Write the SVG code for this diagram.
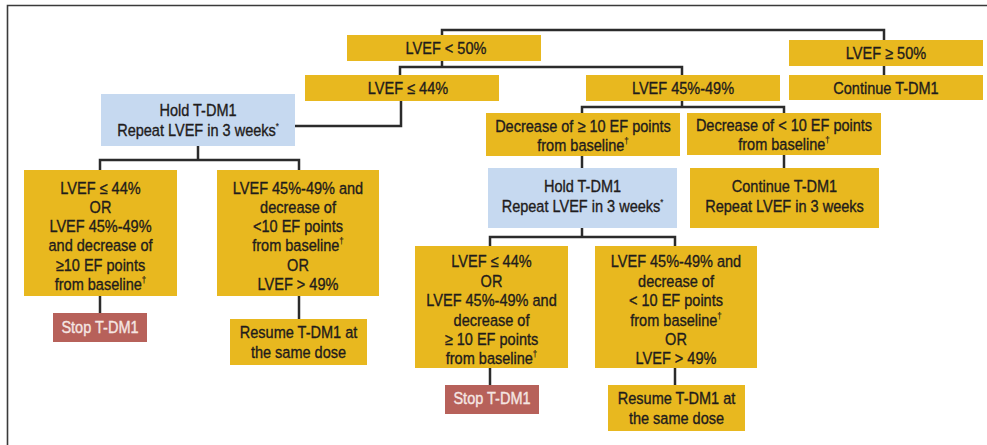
<svg xmlns="http://www.w3.org/2000/svg" width="987" height="445" viewBox="0 0 987 445">
<style>
.y{fill:#e8b81f}
.b{fill:#c6d9f0}
.r{fill:#b7615a}
.c{fill:none;stroke:#2b2b2b;stroke-width:2.5}
text{font-family:"Liberation Sans",Arial,sans-serif;font-size:16.5px;fill:#1f1c1c;stroke:#1f1c1c;stroke-width:0.35;text-anchor:middle;transform-box:fill-box;transform-origin:center;transform:scaleX(0.88)}
.w{fill:#f5e6e2;stroke:#f5e6e2}
.s{font-size:9px;stroke-width:0.2}
</style>
<rect width="987" height="445" fill="#ffffff"/>
<path d="M7.5,445 V5.5 H987" fill="none" stroke="#3a3a3a" stroke-width="1.6"/>
<g id="connectors">
<path class="c" d="M442,35 V30 H884 V40"/>
<path class="c" d="M884,66 V75"/>
<path class="c" d="M442,61 V67"/>
<path class="c" d="M400,75 V67 H682 V75"/>
<path class="c" d="M401,101 V126 H295"/>
<path class="c" d="M198,146 V160"/>
<path class="c" d="M100,170 V160 H299 V170"/>
<path class="c" d="M682,101 V107"/>
<path class="c" d="M582,113 V107 H784 V113"/>
<path class="c" d="M582,156 V168"/>
<path class="c" d="M784,155 V168"/>
<path class="c" d="M582,228 V237"/>
<path class="c" d="M490,246 V237 H675 V246"/>
<path class="c" d="M100,296 V313"/>
<path class="c" d="M299,296 V319"/>
<path class="c" d="M490,368 V385"/>
<path class="c" d="M675,368 V385"/>
</g>
<g id="n1"><rect class="y" x="347" y="35" width="194" height="26"/><text x="446" y="54.5">LVEF &lt; 50%</text></g>
<g id="n2"><rect class="y" x="789" y="40" width="194" height="26"/><text x="886" y="59.5">LVEF ≥ 50%</text></g>
<g id="n3"><rect class="y" x="305" y="75" width="194" height="26"/><text x="408" y="94.5">LVEF ≤ 44%</text></g>
<g id="n4"><rect class="y" x="586" y="75" width="194" height="26"/><text x="683" y="94.5">LVEF 45%-49%</text></g>
<g id="n5"><rect class="y" x="789" y="75" width="194" height="25"/><text x="886" y="94">Continue T-DM1</text></g>
<g id="n6"><rect class="b" x="101" y="94" width="194" height="52"/><text x="198" y="116">Hold T-DM1</text><text x="198" y="136.5">Repeat LVEF in 3 weeks<tspan class="s" dy="-7">*</tspan></text></g>
<g id="n7"><rect class="y" x="486" y="113" width="194" height="43"/><text x="583" y="132">Decrease of ≥ 10 EF points</text><text x="583" y="151">from baseline<tspan class="s" dy="-7">†</tspan></text></g>
<g id="n8"><rect class="y" x="687" y="113" width="194" height="42"/><text x="784" y="131">Decrease of &lt; 10 EF points</text><text x="784" y="150">from baseline<tspan class="s" dy="-7">†</tspan></text></g>
<g id="n9"><rect class="b" x="488" y="168" width="189" height="60"/><text x="582.5" y="192">Hold T-DM1</text><text x="582.5" y="212">Repeat LVEF in 3 weeks<tspan class="s" dy="-7">*</tspan></text></g>
<g id="n10"><rect class="y" x="690" y="168" width="189" height="60"/><text x="784.5" y="192">Continue T-DM1</text><text x="784.5" y="212">Repeat LVEF in 3 weeks</text></g>
<g id="n11"><rect class="y" x="24" y="170" width="153" height="126"/>
<text x="100.5" y="194">LVEF ≤ 44%</text><text x="100.5" y="213">OR</text><text x="100.5" y="232.5">LVEF 45%-49%</text><text x="100.5" y="251.5">and decrease of</text><text x="100.5" y="271">≥10 EF points</text><text x="100.5" y="290">from baseline<tspan class="s" dy="-7">†</tspan></text></g>
<g id="n12"><rect class="y" x="217" y="170" width="162" height="126"/>
<text x="298" y="194">LVEF 45%-49% and</text><text x="298" y="213">decrease of</text><text x="298" y="232.5">&lt;10 EF points</text><text x="298" y="251.5">from baseline<tspan class="s" dy="-7">†</tspan></text><text x="298" y="271">OR</text><text x="298" y="290">LVEF &gt; 49%</text></g>
<g id="n13"><rect class="r" x="53" y="313" width="94" height="29"/><text class="w" x="100" y="333">Stop T-DM1</text></g>
<g id="n14"><rect class="y" x="230" y="319" width="137" height="46"/><text x="298.5" y="338.5">Resume T-DM1 at</text><text x="298.5" y="358.5">the same dose</text></g>
<g id="n15"><rect class="y" x="415" y="246" width="153" height="122"/>
<text x="491.5" y="267.5">LVEF ≤ 44%</text><text x="491.5" y="287">OR</text><text x="491.5" y="306.5">LVEF 45%-49% and</text><text x="491.5" y="326">decrease of</text><text x="491.5" y="345">≥ 10 EF points</text><text x="491.5" y="364">from baseline<tspan class="s" dy="-7">†</tspan></text></g>
<g id="n16"><rect class="y" x="595" y="246" width="162" height="122"/>
<text x="676" y="267.5">LVEF 45%-49% and</text><text x="676" y="287">decrease of</text><text x="676" y="306.5">&lt; 10 EF points</text><text x="676" y="326">from baseline<tspan class="s" dy="-7">†</tspan></text><text x="676" y="345">OR</text><text x="676" y="364">LVEF &gt; 49%</text></g>
<g id="n17"><rect class="r" x="445" y="385" width="94" height="29"/><text class="w" x="492" y="404.5">Stop T-DM1</text></g>
<g id="n18"><rect class="y" x="608" y="385" width="137" height="46"/><text x="676.5" y="404.5">Resume T-DM1 at</text><text x="676.5" y="424.5">the same dose</text></g>
</svg>
